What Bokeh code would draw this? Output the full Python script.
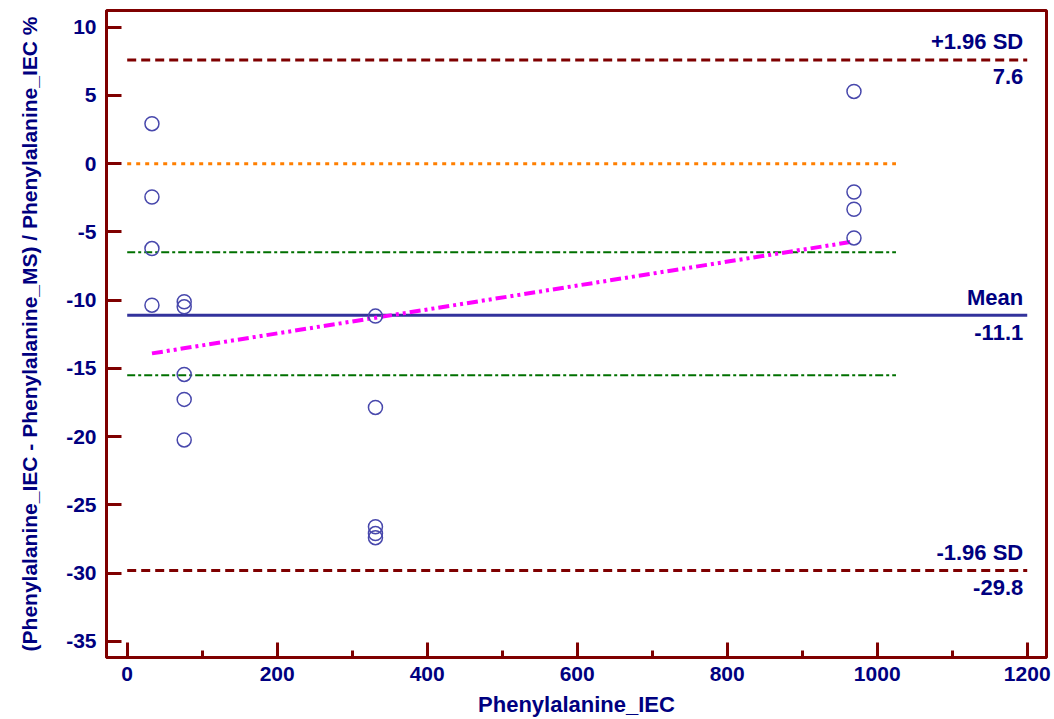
from bokeh.plotting import figure
from bokeh.models import Range1d, SingleIntervalTicker, ColumnDataSource, CustomJSTickFormatter
from bokeh.embed import file_html
from bokeh.resources import INLINE
from bokeh.core.properties import value

# ---- data ----
x_vals = [33, 33, 33, 33,
          76, 76, 76, 76, 76,
          331, 331, 331, 331, 331,
          969, 969, 969, 969]
y_vals = [2.93, -2.44, -6.22, -10.37,
          -10.12, -10.49, -15.44, -17.27, -20.24,
          -11.17, -17.86, -26.6, -27.1, -27.4,
          5.29, -2.08, -3.34, -5.44]

mean_diff = -11.1
sd_upper = 7.6
sd_lower = -29.8
ci_upper = -6.5
ci_lower = -15.5
zero_line = 0.0
limit_x = [0, 1200]
short_x = [0, 1025]
reg_x = [33, 969]
reg_y = [-13.9, -5.7]

label_above = ["+1.96 SD", "Mean", "-1.96 SD"]
label_below = ["7.6", "-11.1", "-29.8"]
label_y = [sd_upper, mean_diff, sd_lower]

x_title = "Phenylalanine_IEC"
y_title = "(Phenylalanine_IEC - Phenylalanine_MS) / Phenylalanine_IEC %"

# ---- styles ----
MAROON = "#7F0000"
NAVY = "#000080"
FONT = "Liberation Sans"

p = figure(width=1054, height=719, output_backend="svg", toolbar_location=None,
           x_range=Range1d(-27.6, 1225.7), y_range=Range1d(-36.18, 11.22),
           min_border_left=106, min_border_right=8, min_border_top=10, min_border_bottom=62)
p.background_fill_color = "white"
p.border_fill_color = "white"
p.outline_line_color = MAROON
p.outline_line_width = 3
p.grid.visible = False

p.xaxis.ticker = SingleIntervalTicker(interval=200, num_minor_ticks=2)
p.yaxis.ticker = SingleIntervalTicker(interval=5, num_minor_ticks=0)
for ax in (p.xaxis, p.yaxis):
    ax.formatter = CustomJSTickFormatter(code="return String(tick);")
    ax.axis_line_color = MAROON
    ax.axis_line_width = 3
    ax.major_tick_line_color = MAROON
    ax.major_tick_line_width = 3
    ax.major_tick_in = 15
    ax.major_tick_out = 0
    ax.minor_tick_line_color = MAROON
    ax.minor_tick_line_width = 3
    ax.minor_tick_in = 7
    ax.minor_tick_out = 0
    ax.major_label_text_font = FONT
    ax.major_label_text_font_size = "21px"
    ax.major_label_text_font_style = "bold"
    ax.major_label_text_color = NAVY
    ax.axis_label_text_font = FONT
    ax.axis_label_text_font_style = "bold"
    ax.axis_label_text_color = NAVY
p.xaxis.axis_label = x_title
p.yaxis.axis_label = y_title
p.xaxis.axis_label_text_font_size = "22px"
p.yaxis.axis_label_text_font_size = "21px"
p.xaxis.major_label_standoff = 9
p.yaxis.major_label_standoff = 10
p.xaxis.axis_label_standoff = 8
p.yaxis.axis_label_standoff = 22

# horizontal reference lines
p.line(short_x, [zero_line, zero_line], line_color="#FF7F00", line_width=3, line_dash="4 5")
p.line(short_x, [ci_upper, ci_upper], line_color="#007000", line_width=2, line_dash="8 3 3 3")
p.line(short_x, [ci_lower, ci_lower], line_color="#007000", line_width=2, line_dash="8 3 3 3")
p.line(limit_x, [sd_upper, sd_upper], line_color=MAROON, line_width=3, line_dash="9 5")
p.line(limit_x, [sd_lower, sd_lower], line_color=MAROON, line_width=3, line_dash="9 5")
p.line(limit_x, [mean_diff, mean_diff], line_color="#33339C", line_width=3)

# regression line
p.line(reg_x, reg_y, line_color="#FF00FF", line_width=4, line_dash="11 4 3 4 3 4")

# points
p.scatter(x_vals, y_vals, marker="circle", size=14, fill_color=None,
          line_color="#4848AC", line_width=1.5)

# labels
lab = ColumnDataSource(dict(x=[limit_x[1]] * 3, y=label_y, a=label_above, b=label_below))
p.text(x="x", y="y", text="a", source=lab, text_align="right", text_baseline="alphabetic",
       x_offset=-4, y_offset=-18, text_font=value(FONT), text_font_size="22px",
       text_font_style="bold", text_color=NAVY)
p.text(x="x", y="y", text="b", source=lab, text_align="right", text_baseline="alphabetic",
       x_offset=-4, y_offset=17, text_font=value(FONT), text_font_size="22px",
       text_font_style="bold", text_color=NAVY)

open("out.html", "w").write(file_html(p, INLINE))
